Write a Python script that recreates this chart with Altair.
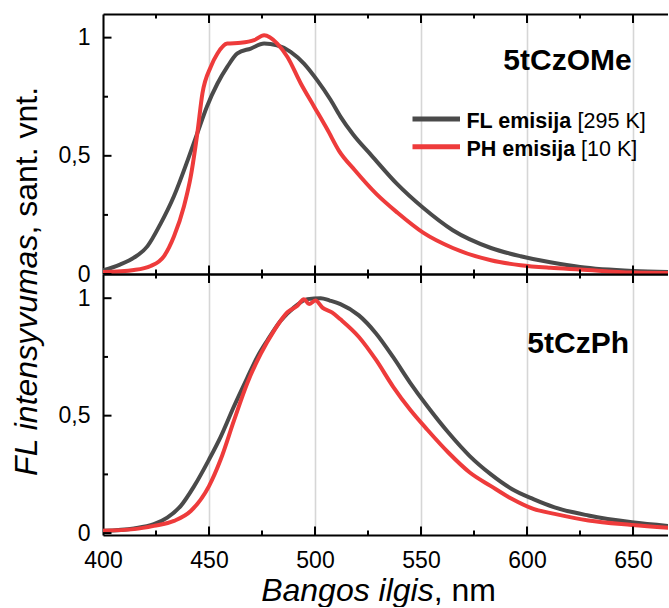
import altair as alt
import pandas as pd

# ---------------- data ----------------
# Top panel: 5tCzOMe
top_fl_wl = [400, 408, 414.6, 421, 427, 433.5, 440, 444.5, 449, 454, 458.6, 463.4, 469.7, 476, 482,
             488.5, 494.8, 501, 507.4, 512, 518, 526.8, 538.8, 551, 565, 583, 597, 611, 625, 650, 670]
top_fl_int = [0.015, 0.04, 0.069, 0.118, 0.21, 0.33, 0.483, 0.596, 0.708, 0.806, 0.876, 0.933, 0.954, 0.975, 0.968,
              0.94, 0.89, 0.82, 0.736, 0.666, 0.59, 0.5, 0.38, 0.28, 0.185, 0.11, 0.075, 0.05, 0.03, 0.013, 0.008]

top_ph_wl = [400, 414.6, 422.5, 428.8, 433.5, 438.2, 441.4, 444.5, 446.9, 450.8, 454, 458.6, 465, 471.3, 476,
             482.2, 487, 493.3, 499.6, 505.9, 511.4, 518.7, 528.8, 538.8, 551, 565, 583, 597, 611, 625, 650, 670]
top_ph_int = [0.008, 0.017, 0.034, 0.076, 0.16, 0.287, 0.413, 0.596, 0.764, 0.876, 0.933, 0.975, 0.978, 0.989, 1.01,
              0.975, 0.918, 0.806, 0.708, 0.61, 0.52, 0.44, 0.34, 0.26, 0.175, 0.11, 0.058, 0.037, 0.026, 0.019, 0.006, 0.004]

# Bottom panel: 5tCzPh
bot_fl_wl = [400, 414.6, 424, 430.3, 436.6, 443, 450, 455.5, 461.8, 468, 472.8, 477.5, 483.8, 490, 496.4,
             502.7, 507, 512, 520.7, 528.8, 536.8, 544.9, 553, 563, 573, 583, 593, 603, 613, 629, 649.5, 670]
bot_fl_int = [0.01, 0.02, 0.038, 0.066, 0.115, 0.2, 0.313, 0.41, 0.54, 0.66, 0.75, 0.82, 0.904, 0.96, 0.996,
              1.0, 0.99, 0.975, 0.927, 0.85, 0.75, 0.64, 0.54, 0.427, 0.328, 0.25, 0.187, 0.145, 0.11, 0.075, 0.046, 0.028]

bot_ph_wl = [400, 414.6, 424, 433.5, 441.4, 450, 455.5, 461.8, 468, 474.4, 480.7, 487, 491.7, 494.8, 497.2,
             500.3, 503.5, 508, 512, 520.7, 528.8, 536.8, 544.9, 553, 563, 573, 583, 593, 603, 613, 629, 649.5, 670]
bot_ph_int = [0.01, 0.017, 0.031, 0.052, 0.094, 0.2, 0.313, 0.48, 0.637, 0.763, 0.862, 0.94, 0.968, 0.996, 0.975,
              0.99, 0.96, 0.94, 0.91, 0.835, 0.737, 0.624, 0.525, 0.44, 0.342, 0.258, 0.2, 0.145, 0.103, 0.082, 0.054, 0.035, 0.02]

x_major = [400, 450, 500, 550, 600, 650]
x_minor = [425, 475, 525, 575, 625]
y_major = [0, 0.5, 1]
y_minor = [0.25, 0.75]

legend_bold = ["FL emisija", "PH emisija"]
legend_regular = ["[295 K]", "[10 K]"]
panel_names = ["5tCzOMe", "5tCzPh"]
x_title = ["Bangos ilgis", ", nm"]
y_title = ["FL intensyvumas", ", sant. vnt."]

# ---------------- styling ----------------
GRAY = "#4a4a4a"
RED = "#ee3b3b"
FONT = "Liberation Sans"
W = 565
H_TOP = 260
H_BOT = 261
X_DOM = [400, 400 + W / 2.12]
Y_LABELS = "datum.value === 1 ? '1' : datum.value === 0.5 ? '0,5' : '0'"
MAJ = 8.5  # tick lengths in pixels
MIN = 4.5


def ax(orient, values, domain=True, grid=False, labels=False, expr=None, pad=0.0):
    kw = dict(orient=orient, values=values, title=None, labels=labels, grid=grid, domain=domain,
              ticks=False, tickSize=0, domainColor="black", domainWidth=2)
    if grid:
        kw.update(gridColor="#d6d6d6", gridWidth=1.6)
    if labels:
        kw.update(labelFont=FONT, labelFontSize=23, labelColor="black",
                  labelPadding=pad, labelFlush=False, labelOverlap=False)
        if expr:
            kw.update(labelExpr=expr)
    return alt.Axis(**kw)


def panel_layers(wl_fl, v_fl, wl_ph, v_ph, y_dom, height, bottom_labels):
    d_fl = pd.DataFrame({"wl": wl_fl, "v": v_fl})
    d_ph = pd.DataFrame({"wl": wl_ph, "v": v_ph})
    xs = alt.Scale(domain=X_DOM, nice=False, zero=False)
    ys = alt.Scale(domain=y_dom, nice=False, zero=False)
    y_per_px = (y_dom[1] - y_dom[0]) / height
    x_per_px = (X_DOM[1] - X_DOM[0]) / W

    fl = alt.Chart(d_fl).mark_line(color=GRAY, strokeWidth=4, interpolate="monotone", clip=True).encode(
        x=alt.X("wl:Q", scale=xs, axis=ax("bottom", x_major, grid=True, labels=bottom_labels, pad=14)),
        y=alt.Y("v:Q", scale=ys, axis=ax("left", y_major, labels=True, expr=Y_LABELS, pad=13)),
    )
    ph = alt.Chart(d_ph).mark_line(color=RED, strokeWidth=4, interpolate="monotone", clip=True).encode(
        x=alt.X("wl:Q", scale=xs, axis=ax("top", x_major)),
        y=alt.Y("v:Q", scale=ys, axis=None),
    )

    # inward tick marks: rules whose ends go through the shared scales
    def xticks(vals, length, at_bottom):
        if at_bottom:
            a, b = y_dom[0], y_dom[0] + length * y_per_px
        else:
            a, b = y_dom[1] - length * y_per_px, y_dom[1]
        d = pd.DataFrame({"tx": vals, "ya": [a] * len(vals), "yb": [b] * len(vals)})
        return alt.Chart(d).mark_rule(color="black", strokeWidth=2).encode(
            x=alt.X("tx:Q", scale=xs, axis=None),
            y=alt.Y("ya:Q", scale=ys, axis=None), y2="yb:Q")

    def yticks(vals, length):
        d = pd.DataFrame({"ty": vals, "xa": [X_DOM[0]] * len(vals),
                          "xb": [X_DOM[0] + length * x_per_px] * len(vals)})
        return alt.Chart(d).mark_rule(color="black", strokeWidth=2).encode(
            y=alt.Y("ty:Q", scale=ys, axis=None),
            x=alt.X("xa:Q", scale=xs, axis=None), x2="xb:Q")

    ticks = [
        xticks(x_major[1:], MAJ, True), xticks(x_minor, MIN, True),
        xticks(x_major[1:], MAJ + 0.5, False), xticks(x_minor, MIN, False),
        yticks(y_major, MAJ), yticks(y_minor, MIN + 0.5),
    ]
    return [fl, ph] + ticks


def text_layer(txt, x, y, size, weight="normal", style="normal", align="left", angle=0):
    return alt.Chart(pd.DataFrame({"t": [txt]})).mark_text(
        font=FONT, fontSize=size, fontWeight=weight, fontStyle=style, align=align,
        baseline="alphabetic", angle=angle, color="black",
    ).encode(text="t:N", x=alt.value(x), y=alt.value(y))


# ---------------- top panel ----------------
top_layers = panel_layers(top_fl_wl, top_fl_int, top_ph_wl, top_ph_int, [0, 1.1], H_TOP, False)

leg_fl_line = alt.Chart(pd.DataFrame({"s": [legend_bold[0]]})).mark_rule(color=GRAY, strokeWidth=5).encode(
    x=alt.value(309.5), x2=alt.value(357), y=alt.value(105))
leg_ph_line = alt.Chart(pd.DataFrame({"s": [legend_bold[1]]})).mark_rule(color=RED, strokeWidth=5).encode(
    x=alt.value(309.5), x2=alt.value(357), y=alt.value(132.7))

top = alt.layer(
    *top_layers,
    leg_fl_line, leg_ph_line,
    text_layer(legend_bold[0], 363.4, 114.3, 21.5, weight="bold"),
    text_layer(legend_regular[0], 474.6, 114.3, 21.5),
    text_layer(legend_bold[1], 363.4, 142, 21.5, weight="bold"),
    text_layer(legend_regular[1], 478.1, 142, 21.5),
    text_layer(panel_names[0], 528.7, 56, 30, weight="bold", align="right"),
).resolve_scale(x="shared", y="shared").resolve_axis(x="independent", y="independent").properties(
    width=W, height=H_TOP)

# ---------------- bottom panel ----------------
bot_layers = panel_layers(bot_fl_wl, bot_fl_int, bot_ph_wl, bot_ph_int, [-0.008, 1.103], H_BOT, True)

bottom = alt.layer(
    *bot_layers,
    text_layer(panel_names[1], 526, 79.3, 30, weight="bold", align="right"),
    text_layer(x_title[0], 330.7, 327, 32, style="italic", align="right"),
    text_layer(x_title[1], 330.7, 327, 32, align="left"),
    text_layer(y_title[0], -65.6, -39.4, 32, style="italic", align="right", angle=270),
    text_layer(y_title[1], -65.6, -39.4, 32, align="left", angle=270),
).resolve_scale(x="shared", y="shared").resolve_axis(x="independent", y="independent").properties(
    width=W, height=H_BOT)

chart = alt.vconcat(top, bottom, spacing=0, bounds="flush").properties(
    padding={"left": 11, "top": 13, "right": 0, "bottom": 0},
    background="white",
).configure_view(stroke=None)

chart.save("out.html", embed_options={"renderer": "svg", "actions": False})
